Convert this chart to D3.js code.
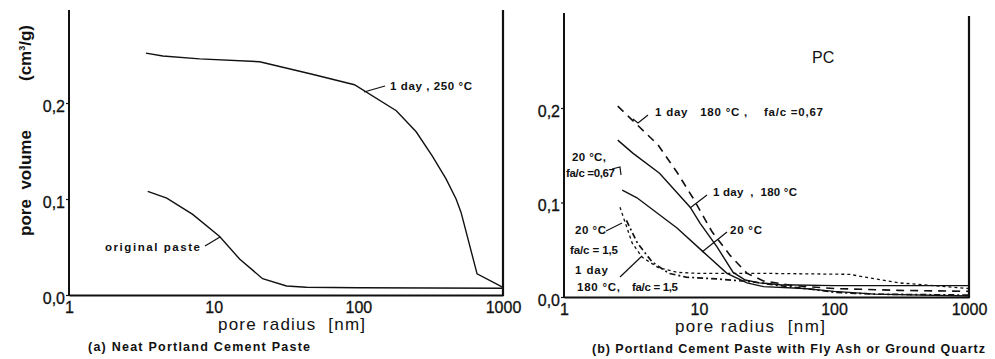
<!DOCTYPE html>
<html>
<head>
<meta charset="utf-8">
<script src="https://cdn.jsdelivr.net/npm/d3@7"></script>
<style>
  html, body { margin: 0; padding: 0; background: #fff; }
  svg { display: block; font-family: "Liberation Sans", Arial, sans-serif; }
  .tick-label { font-size: 16px; fill: #111; stroke: #111; stroke-width: 0.3px; }
  .axis-title { font-size: 17px; fill: #111; }
  .caption { font-size: 12.5px; font-weight: bold; fill: #111; }
  .note { font-size: 11.5px; font-weight: bold; fill: #111; }
</style>
</head>
<body>
<svg id="chart" width="995" height="359"></svg>
<script>
// Axis ticks shared by both panels
const xTickValues = [1, 10, 100, 1000];
const xTickLabels = ["1", "10", "100", "1000"];
const yTickValues = [0, 0.1, 0.2];
const yTickLabels = ["0,0", "0,1", "0,2"];

// (a) Neat Portland cement paste: pore radius [nm] vs cumulative pore volume [cm3/g]
const radiusA250 = [3.4, 4.45, 8, 20.8, 48, 94, 183, 251, 324, 404, 474, 513, 662, 1000];
const volumeA250 = [0.252, 0.249, 0.246, 0.243, 0.230, 0.219, 0.192, 0.170, 0.145, 0.121, 0.100, 0.086, 0.022, 0.008];
const radiusAOrig = [3.5, 4.74, 7.16, 11, 15.1, 21.8, 31.9, 43.7, 100, 1000];
const volumeAOrig = [0.108, 0.101, 0.084, 0.061, 0.0375, 0.017, 0.0094, 0.008, 0.0075, 0.007];

// (b) Cement paste with fly ash or ground quartz
const radiusPC180 = [2.5, 3.25, 5.1, 8.6, 10.2, 13.6, 17.9, 22, 28, 40, 100, 1000];
const volumePC180 = [0.166, 0.152, 0.131, 0.095, 0.078, 0.053, 0.026, 0.018, 0.015, 0.013, 0.012, 0.012];
const radiusPC20 = [2.7, 3.47, 6.87, 10.7, 16.1, 22.7, 30, 60, 100, 200, 1000];
const volumePC20 = [0.113, 0.105, 0.073, 0.048, 0.025, 0.015, 0.011, 0.009, 0.006, 0.003, 0.001];
const radiusFA067 = [2.5, 4.97, 6.87, 9.0, 12.5, 17, 22.7, 30, 50, 100, 300, 1000];
const volumeFA067 = [0.202, 0.161, 0.132, 0.105, 0.069, 0.044, 0.025, 0.017, 0.012, 0.009, 0.007, 0.006];
const radiusFA15a = [2.6, 2.85, 3.2, 3.8, 5, 7, 10, 30, 130, 300, 1000];
const volumeFA15a = [0.095, 0.078, 0.057, 0.042, 0.031, 0.026, 0.025, 0.025, 0.024, 0.015, 0.009];
const radiusFA15b = [2.9, 3.5, 4.5, 6, 8, 14, 25, 40, 70, 100, 200, 1000];
const volumeFA15b = [0.081, 0.057, 0.037, 0.025, 0.021, 0.019, 0.016, 0.012, 0.008, 0.005, 0.003, 0.002];

const svg = d3.select("#chart");

function zip(xs, ys) { return xs.map((x, i) => [x, ys[i]]); }

function drawPanel(cfg) {
  const x = d3.scaleLog().domain([1, 1000]).range([cfg.x0, cfg.x1]);
  const y = d3.scaleLinear().domain([0, 0.1]).range([cfg.y0, cfg.y0 - cfg.unit]);
  const g = svg.append("g");

  // frame: left axis, bottom axis, right border
  g.append("line").attr("x1", cfg.x0).attr("x2", cfg.x0).attr("y1", cfg.top).attr("y2", cfg.y0 + 1)
    .attr("stroke", "#111").attr("stroke-width", 2);
  g.append("line").attr("x1", cfg.x1).attr("x2", cfg.x1).attr("y1", cfg.rightTop).attr("y2", cfg.y0 + 1)
    .attr("stroke", "#111").attr("stroke-width", 2.2);

  const xAxis = d3.axisBottom(x).tickValues(xTickValues).tickSize(0).tickFormat((d, i) => xTickLabels[i]);
  const xa = g.append("g").attr("transform", `translate(0,${cfg.y0})`).call(xAxis);
  xa.select(".domain").attr("stroke", "#111").attr("stroke-width", 2.2);
  xa.selectAll("text").attr("class", "tick-label").attr("font-family", null).attr("font-size", null)
    .attr("dy", "0.25em").attr("y", 14).attr("fill", null);

  const yAxis = d3.axisLeft(y).tickValues(yTickValues).tickSize(3).tickPadding(1)
    .tickFormat((d, i) => yTickLabels[i]);
  const ya = g.append("g").attr("transform", `translate(${cfg.x0},0)`).call(yAxis);
  ya.select(".domain").remove();
  ya.selectAll("line").attr("stroke", "#111").attr("stroke-width", 1.2);
  ya.selectAll("text").attr("class", "tick-label").attr("font-family", null).attr("font-size", null)
    .attr("fill", null).attr("dy", "0.5em");

  const line = d3.line().x(d => x(d[0])).y(d => y(d[1]));
  cfg.series.forEach(s => {
    g.append("path").datum(zip(s.r, s.v)).attr("d", line)
      .attr("fill", "none").attr("stroke", "#111")
      .attr("stroke-width", s.w || 1.4)
      .attr("stroke-dasharray", s.dash || null);
  });

  // x-axis title and caption
  g.append("text").attr("class", "axis-title").attr("x", cfg.titleX).attr("y", cfg.y0 + 35)
    .attr("xml:space", "preserve").attr("textLength", cfg.titleLen).attr("lengthAdjust", "spacing")
    .text("pore radius  [nm]");
  g.append("text").attr("class", "caption").attr("x", cfg.captionX).attr("y", cfg.y0 + 56)
    .attr("textLength", cfg.captionLen).attr("lengthAdjust", "spacing")
    .text(cfg.caption);
  return { x, y, g };
}

const A = drawPanel({
  x0: 69, x1: 503, y0: 295, unit: 96, top: 10, rightTop: 10,
  titleX: 218, titleLen: 147, captionX: 88, captionLen: 222,
  caption: "(a) Neat Portland Cement Paste",
  series: [
    { r: radiusA250, v: volumeA250 },
    { r: radiusAOrig, v: volumeAOrig }
  ]
});

const B = drawPanel({
  x0: 564, x1: 969, y0: 297, unit: 94.5, top: 13, rightTop: 16,
  titleX: 675, titleLen: 150, captionX: 592, captionLen: 393,
  caption: "(b) Portland Cement Paste with Fly Ash or Ground Quartz",
  series: [
    { r: radiusPC180, v: volumePC180 },
    { r: radiusPC20, v: volumePC20 },
    { r: radiusFA067, v: volumeFA067, dash: "8,6", w: 1.6 },
    { r: radiusFA15a, v: volumeFA15a, dash: "3,3", w: 1.3 },
    { r: radiusFA15b, v: volumeFA15b, dash: "6,3,2,3", w: 1.7 }
  ]
});

// y-axis title (left panel only)
svg.append("text").attr("class", "axis-title").attr("font-weight", "bold").attr("font-size", 15)
  .attr("transform", "translate(31,183) rotate(-90)").attr("text-anchor", "middle")
  .attr("xml:space", "preserve").text("pore  volume");
const unit = svg.append("text").attr("class", "axis-title").attr("font-weight", "bold").attr("font-size", 14)
  .attr("transform", "translate(31,53) rotate(-90)").attr("text-anchor", "middle");
unit.append("tspan").text("(cm");
unit.append("tspan").attr("font-size", 9).attr("dy", -6).text("3");
unit.append("tspan").attr("dy", 6).text("/g)");

// curve annotations with leader lines
function note(panel, text, tx, ty, len, leader) {
  const t = panel.g.append("text").attr("class", "note").attr("x", tx).attr("y", ty)
    .attr("xml:space", "preserve").text(text);
  if (len) t.attr("textLength", len).attr("lengthAdjust", "spacing");
  if (leader) {
    panel.g.append("path").attr("d", d3.line()(leader)).attr("fill", "none")
      .attr("stroke", "#111").attr("stroke-width", 1.2);
  }
}

note(A, "1 day , 250 °C", 390, 90, 82, [[364, 92], [385, 86]]);
note(A, "original paste", 105, 251, 95, [[205, 246], [220, 237]]);

B.g.append("text").attr("x", 812).attr("y", 63).attr("font-size", 16).attr("fill", "#111").text("PC");
note(B, "1 day   180 °C ,    fa/c =0,67", 655, 116, 168, [[648, 115], [638, 123], [633, 119]]);
note(B, "20 °C,", 572, 161, 34, null);
note(B, "fa/c =0,67", 566, 177, 49, [[612, 169], [620, 167], [621, 175]]);
note(B, "1 day  ,  180 °C", 713, 196, 84, [[707, 195], [690, 208]]);
note(B, "20 °C", 730, 234, 32, [[727, 232], [702, 252]]);
note(B, "20 °C", 575, 234, 31, [[606, 231], [622, 223]]);
note(B, "fa/c = 1,5", 570, 254, 48, null);
note(B, "1 day", 575, 274, 33, null);
note(B, "180 °C,", 577, 291, 43, [[620, 277], [642, 256]]);
note(B, "fa/c = 1,5", 632, 291, 46, null);
</script>
</body>
</html>
